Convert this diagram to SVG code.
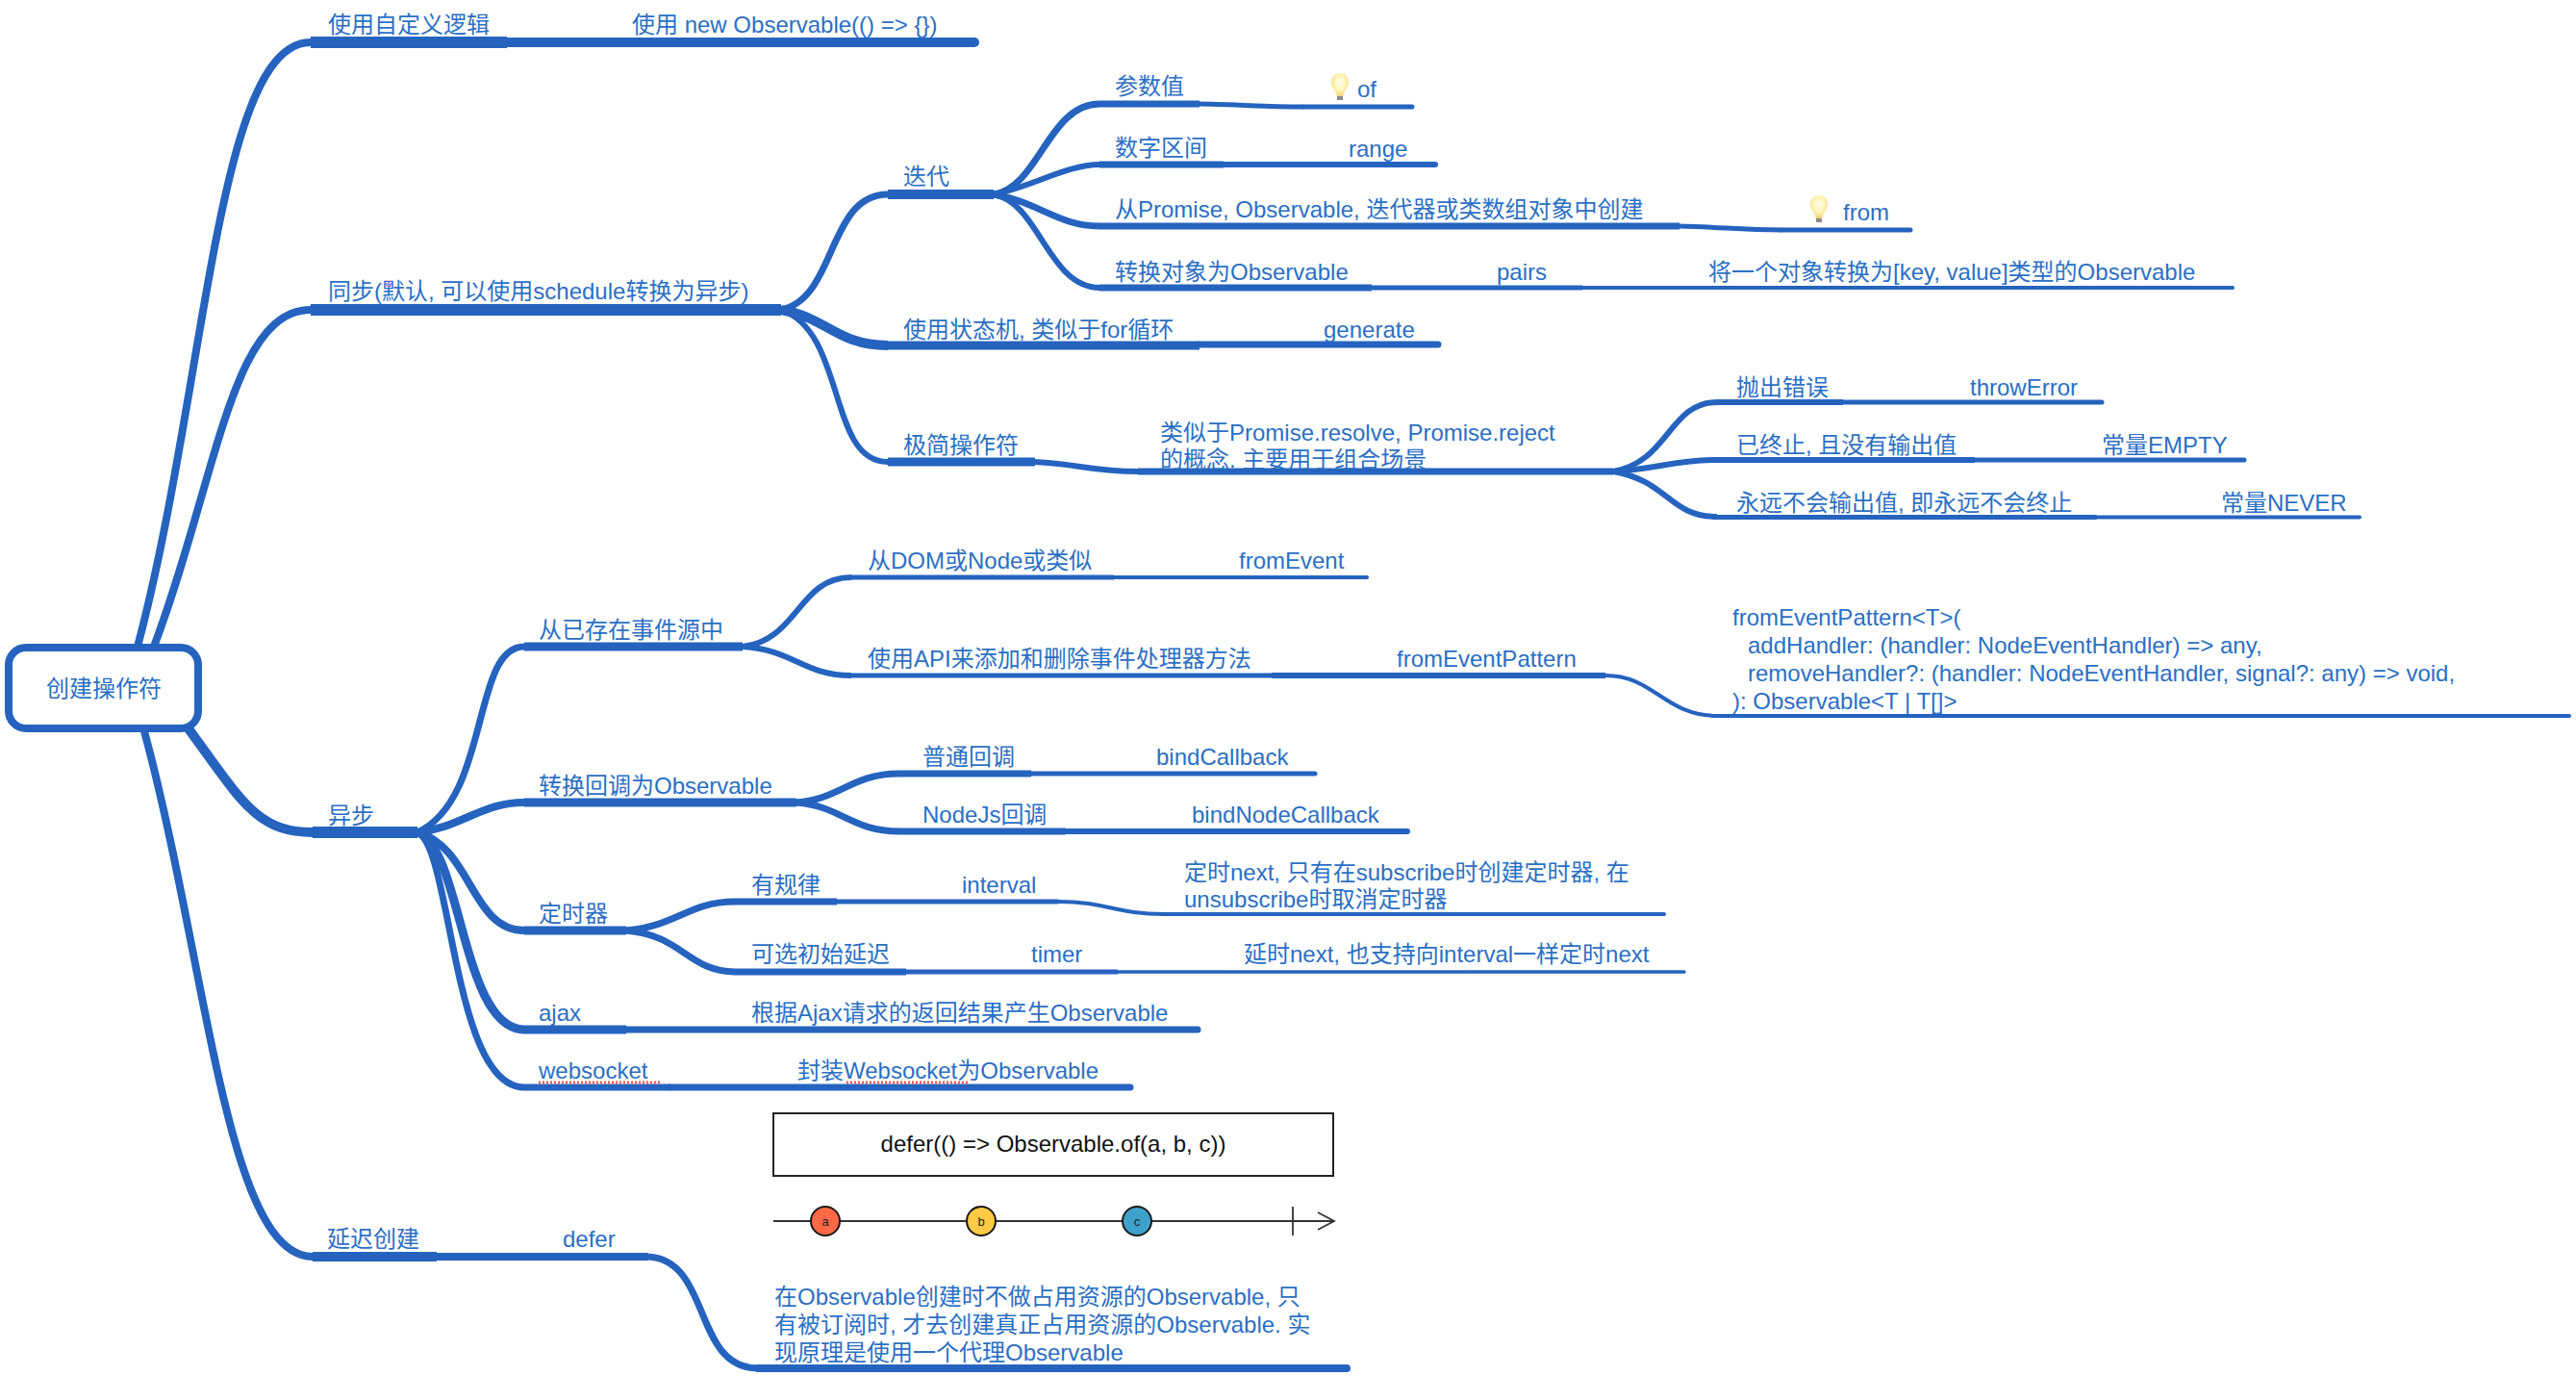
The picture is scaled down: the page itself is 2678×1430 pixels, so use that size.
<svg xmlns="http://www.w3.org/2000/svg" width="2678" height="1430" viewBox="0 0 2678 1430">
<style>
text{font-family:"Liberation Sans","Noto Sans CJK SC",sans-serif;font-size:24px;fill:#2b6fc4}
#conn path{fill:none;stroke:#2563bf;stroke-linecap:butt;stroke-linejoin:round}
#conn path.e{stroke-linecap:round}
.w12{stroke-width:12px}.w10{stroke-width:10px}.w9{stroke-width:9px}.w8{stroke-width:8px}.w7{stroke-width:7px}.w6{stroke-width:6px}.w5{stroke-width:5px}.w4{stroke-width:4px}
.sq{fill:none;stroke:#ef5a50;stroke-width:3px;stroke-dasharray:2 2}
.m{font-size:13px;fill:#222;text-anchor:middle}
.mc{stroke:#1a1a1a;stroke-width:2px}
</style>
<defs>
<radialGradient id="bulb" cx="50%" cy="40%" r="60%"><stop offset="0" stop-color="#fffef0"/><stop offset="0.6" stop-color="#fff3b0"/><stop offset="1" stop-color="#f2cf70"/></radialGradient>
<g id="bi"><path d="M0,-14C-6,-14 -9,-9 -9,-4C-9,1 -4,4 -3,10H3C4,4 9,1 9,-4C9,-9 6,-14 0,-14Z" fill="url(#bulb)"/><rect x="-3" y="10" width="6" height="4" fill="#8c8c8c"/></g>
</defs>
<rect width="2678" height="1430" fill="#fff"/>
<g id="conn">
<!-- root branches -->
<path class="w8" d="M143 672C215 400 225 44 323 44"/>
<path class="w8" d="M160 672C225 500 240 322 323 322"/>
<path class="w10" d="M192 752C250 830 265 865 325 865"/>
<path class="w8" d="M150 760C215 1000 235 1306 325 1306"/>
<path class="w12" d="M323 44H527"/><path class="w10 e" d="M527 44H1013"/>
<path class="w12" d="M323 322H812"/>
<path class="w7" d="M812 322C870 310 860 202 923 202"/>
<path class="w10" d="M812 322C860 330 870 359 923 359"/>
<path class="w6" d="M812 322C880 345 860 480 923 480"/>
<path class="w10" d="M923 202H1033"/>
<path class="w9" d="M923 359H1247"/><path class="w7 e" d="M1247 358H1495"/>
<path class="w9" d="M923 480H1076"/>
<path class="w6" d="M1076 480C1120 482 1135 490 1183 490"/>
<path class="w7" d="M1183 490H1677"/><path class="w7" d="M1033 202C1080 195 1090 108 1143 108"/>
<path class="w6" d="M1033 202C1070 195 1110 171 1143 171"/>
<path class="w7" d="M1033 202C1080 210 1100 235 1143 235"/>
<path class="w6" d="M1033 202C1080 210 1090 299 1143 299"/>
<path class="w7" d="M1143 108H1247"/><path class="w5" d="M1247 108C1300 109 1310 111 1355 111"/><path class="w5 e" d="M1355 111H1468"/>
<path class="w7" d="M1143 171H1272"/><path class="w6 e" d="M1272 171H1492"/>
<path class="w7" d="M1143 235H1746"/><path class="w5" d="M1746 235C1790 236 1810 239 1852 239"/><path class="w5 e" d="M1852 239H1986"/>
<path class="w7" d="M1143 299H1426"/><path class="w5" d="M1426 299H1645"/><path class="w4 e" d="M1645 299H2321"/>
<path class="w6" d="M1677 490C1735 480 1735 418 1785 418"/>
<path class="w6" d="M1677 490C1720 488 1740 478 1785 478"/>
<path class="w6" d="M1677 490C1735 500 1735 537 1785 537"/>
<path class="w6" d="M1785 418H1916"/><path class="w5 e" d="M1916 418H2185"/>
<path class="w6" d="M1785 478H2053"/><path class="w5 e" d="M2053 478H2333"/>
<path class="w5 e" d="M1785 537.500H2178"/><path class="w4 e" d="M2178 537.500H2453"/>
<path class="w12" d="M325 865H434"/>
<path class="w7" d="M434 865C510 830 490 672 545 672"/>
<path class="w8" d="M434 865C480 860 500 834 545 834"/>
<path class="w8" d="M434 865C490 880 490 967 545 967"/>
<path class="w9" d="M434 865C480 880 480 1070 545 1070"/>
<path class="w7" d="M434 865C470 880 470 1130 545 1130"/>
<path class="w9" d="M545 672H772"/>
<path class="w9" d="M545 834H828"/>
<path class="w9" d="M545 967H651"/>
<path class="w9" d="M545 1070H651"/><path class="w7 e" d="M651 1070H1245"/>
<path class="w7" d="M545 1130H697"/><path class="w7 e" d="M697 1130H1175"/>
<path class="w6" d="M772 672C830 665 830 600 885 600"/>
<path class="w6" d="M772 672C825 675 835 702 885 702"/>
<path class="w5" d="M885 600H1158"/><path class="w4 e" d="M1158 600H1421"/>
<path class="w5" d="M885 702H1322"/><path class="w6" d="M1322 702H1669"/>
<path class="w4" d="M1669 702C1720 702 1730 744 1786 744"/><path class="w4 e" d="M1786 744H2671"/>
<path class="w7" d="M828 834C875 830 885 804 935 804"/>
<path class="w7" d="M828 834C875 838 885 864 935 864"/>
<path class="w7" d="M935 804H1072"/><path class="w5 e" d="M1072 804H1367"/>
<path class="w7" d="M935 864H1108"/><path class="w6 e" d="M1108 864H1463"/>
<path class="w7" d="M651 967C705 962 715 937 765 937"/>
<path class="w7" d="M651 967C710 972 715 1010 765 1010"/>
<path class="w7" d="M765 937H870"/><path class="w5" d="M870 937H1100"/>
<path class="w4" d="M1100 937C1150 937 1160 950 1210 950"/><path class="w4 e" d="M1210 950H1730"/>
<path class="w7" d="M765 1010H942"/><path class="w5" d="M942 1010H1162"/><path class="w3 e" style="stroke-width:3.500px" d="M1162 1010H1751"/>
<path class="w10" d="M325 1306H454"/><path class="w8" d="M454 1306H674"/>
<path class="w7" d="M674 1306C740 1310 720 1422 788 1422"/><path class="w8 e" d="M788 1422H1400"/>
</g>
<g id="root"><rect x="9" y="673" width="197" height="84" rx="18" fill="#fff" stroke="#2563bf" stroke-width="8"/><text x="108" y="724" text-anchor="middle">创建操作符</text></g>
<g id="n1"><text x="341" y="34">使用自定义逻辑</text></g>
<g id="n1a"><text x="657" y="34" xml:space="preserve">使用 new Observable(() =&gt; {})</text></g>
<g id="n2"><text x="341" y="311">同步(默认, 可以使用schedule转换为异步)</text></g>
<g id="n21"><text x="939" y="192">迭代</text></g>
<g id="n211"><text x="1159" y="98">参数值</text></g>
<g id="n211a"><use href="#bi" x="1393" y="90"/><text x="1411" y="101">of</text></g>
<g id="n212"><text x="1159" y="162">数字区间</text></g>
<g id="n212a"><text x="1402" y="163">range</text></g>
<g id="n213"><text x="1159" y="226">从Promise, Observable, 迭代器或类数组对象中创建</text></g>
<g id="n213a"><use href="#bi" x="1891" y="217"/><text x="1916" y="229">from</text></g>
<g id="n214"><text x="1159" y="291">转换对象为Observable</text></g>
<g id="n214a"><text x="1556" y="291">pairs</text></g>
<g id="n214b"><text x="1776" y="291">将一个对象转换为[key, value]类型的Observable</text></g>
<g id="n22"><text x="939" y="351">使用状态机, 类似于for循环</text></g>
<g id="n22a"><text x="1376" y="351">generate</text></g>
<g id="n23"><text x="939" y="471">极简操作符</text></g>
<g id="n23a"><text x="1206" y="458">类似于Promise.resolve, Promise.reject</text><text x="1206" y="486">的概念. 主要用于组合场景</text></g>
<g id="n231"><text x="1805" y="411">抛出错误</text></g>
<g id="n231a"><text x="2048" y="411">throwError</text></g>
<g id="n232"><text x="1805" y="471">已终止, 且没有输出值</text></g>
<g id="n232a"><text x="2185" y="471">常量EMPTY</text></g>
<g id="n233"><text x="1805" y="531">永远不会输出值, 即永远不会终止</text></g>
<g id="n233a"><text x="2309" y="531">常量NEVER</text></g>
<g id="n3"><text x="341" y="856">异步</text></g>
<g id="n31"><text x="560" y="663">从已存在事件源中</text></g>
<g id="n311"><text x="902" y="591">从DOM或Node或类似</text></g>
<g id="n311a"><text x="1288" y="591">fromEvent</text></g>
<g id="n312"><text x="902" y="693">使用API来添加和删除事件处理器方法</text></g>
<g id="n312a"><text x="1452" y="693">fromEventPattern</text></g>
<g id="n312b"><text x="1801" y="650">fromEventPattern&lt;T&gt;(</text><text x="1817" y="679">addHandler: (handler: NodeEventHandler) =&gt; any,</text><text x="1817" y="708">removeHandler?: (handler: NodeEventHandler, signal?: any) =&gt; void,</text><text x="1801" y="737">): Observable&lt;T | T[]&gt;</text></g>
<g id="n32"><text x="560" y="825">转换回调为Observable</text></g>
<g id="n321"><text x="959" y="795">普通回调</text></g>
<g id="n321a"><text x="1202" y="795">bindCallback</text></g>
<g id="n322"><text x="959" y="855">NodeJs回调</text></g>
<g id="n322a"><text x="1239" y="855">bindNodeCallback</text></g>
<g id="n33"><text x="560" y="958">定时器</text></g>
<g id="n331"><text x="781" y="928">有规律</text></g>
<g id="n331a"><text x="1000" y="928">interval</text></g>
<g id="n331b"><text x="1231" y="915">定时next, 只有在subscribe时创建定时器, 在</text><text x="1231" y="943">unsubscribe时取消定时器</text></g>
<g id="n332"><text x="781" y="1000">可选初始延迟</text></g>
<g id="n332a"><text x="1072" y="1000">timer</text></g>
<g id="n332b"><text x="1293" y="1000">延时next, 也支持向interval一样定时next</text></g>
<g id="n34"><text x="560" y="1061">ajax</text></g>
<g id="n34a"><text x="781" y="1061">根据Ajax请求的返回结果产生Observable</text></g>
<g id="n35"><text x="560" y="1121">websocket</text><path class="sq" d="M560 1125H686"/></g>
<g id="n35a"><text x="829" y="1121">封装Websocket为Observable</text><path class="sq" d="M880 1125H1006"/></g>
<g id="n4"><text x="340" y="1296">延迟创建</text></g>
<g id="n41"><text x="585" y="1296">defer</text></g>
<g id="n41a"><rect x="804" y="1157" width="582" height="65" fill="#fff" stroke="#222" stroke-width="2"/><text x="1095" y="1197" text-anchor="middle" style="fill:#111">defer(() =&gt; Observable.of(a, b, c))</text>
<path d="M804 1269H1387M1344 1254V1284M1370 1260L1387 1269L1370 1278" fill="none" stroke="#333" stroke-width="1.800"/>
<circle class="mc" cx="858" cy="1269" r="15" fill="#ff6946"/><text class="m" x="858" y="1274">a</text>
<circle class="mc" cx="1020" cy="1269" r="15" fill="#ffcb46"/><text class="m" x="1020" y="1274">b</text>
<circle class="mc" cx="1182" cy="1269" r="15" fill="#3ea1cb"/><text class="m" x="1182" y="1274">c</text>
<text x="805" y="1356">在Observable创建时不做占用资源的Observable, 只</text><text x="805" y="1385">有被订阅时, 才去创建真正占用资源的Observable. 实</text><text x="805" y="1414">现原理是使用一个代理Observable</text></g>
</svg>
